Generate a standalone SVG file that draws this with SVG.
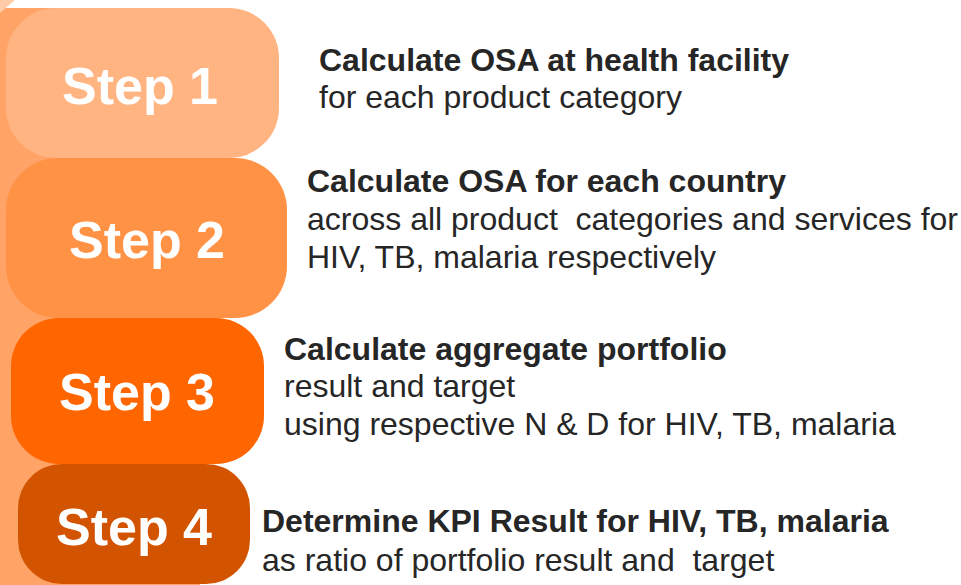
<svg xmlns="http://www.w3.org/2000/svg" width="961" height="585" viewBox="0 0 961 585">
<style>
.lbl{font-family:"Liberation Sans",Arial,sans-serif;font-weight:bold;font-size:52px;fill:#FFFFFF;text-anchor:middle}
.t{font-family:"Liberation Sans",Arial,sans-serif;font-size:32px;fill:#262626;white-space:pre}
.b{font-weight:bold}
</style>
<rect width="961" height="585" fill="#FFFFFF"/>
<g id="background">
<rect x="0" y="8" width="200" height="577" fill="#FFA366"/>
<polygon points="0,0 15,0 0,13" fill="#FFCBA8"/>
</g>
<g id="step1">
<rect x="6" y="8" width="273" height="150" rx="50" ry="50" fill="#FFB482"/>
<text class="lbl" x="140" y="104">Step 1</text>
<text class="t b" x="319" y="71">Calculate OSA at health facility</text>
<text class="t" x="319" y="108">for each product category</text>
</g>
<g id="step2">
<rect x="6" y="158" width="281" height="160" rx="52" ry="52" fill="#FF9245"/>
<text class="lbl" x="147" y="258">Step 2</text>
<text class="t b" x="307" y="192">Calculate OSA for each country</text>
<text class="t" x="307" y="230">across all product  categories and services for</text>
<text class="t" x="307" y="268">HIV, TB, malaria respectively</text>
</g>
<g id="step3">
<rect x="11" y="318" width="253" height="146" rx="48" ry="48" fill="#FF6600"/>
<text class="lbl" x="137" y="410">Step 3</text>
<text class="t b" x="284" y="360">Calculate aggregate portfolio</text>
<text class="t" x="284" y="397">result and target</text>
<text class="t" x="284" y="435">using respective N &amp; D for HIV, TB, malaria</text>
</g>
<g id="step4">
<rect x="18" y="464" width="232" height="120" rx="44" ry="44" fill="#D35400"/>
<text class="lbl" x="134" y="545">Step 4</text>
<text class="t b" x="262" y="532">Determine KPI Result for HIV, TB, malaria</text>
<text class="t" x="262" y="571">as ratio of portfolio result and  target</text>
</g>
<g id="connectors"/>
</svg>
